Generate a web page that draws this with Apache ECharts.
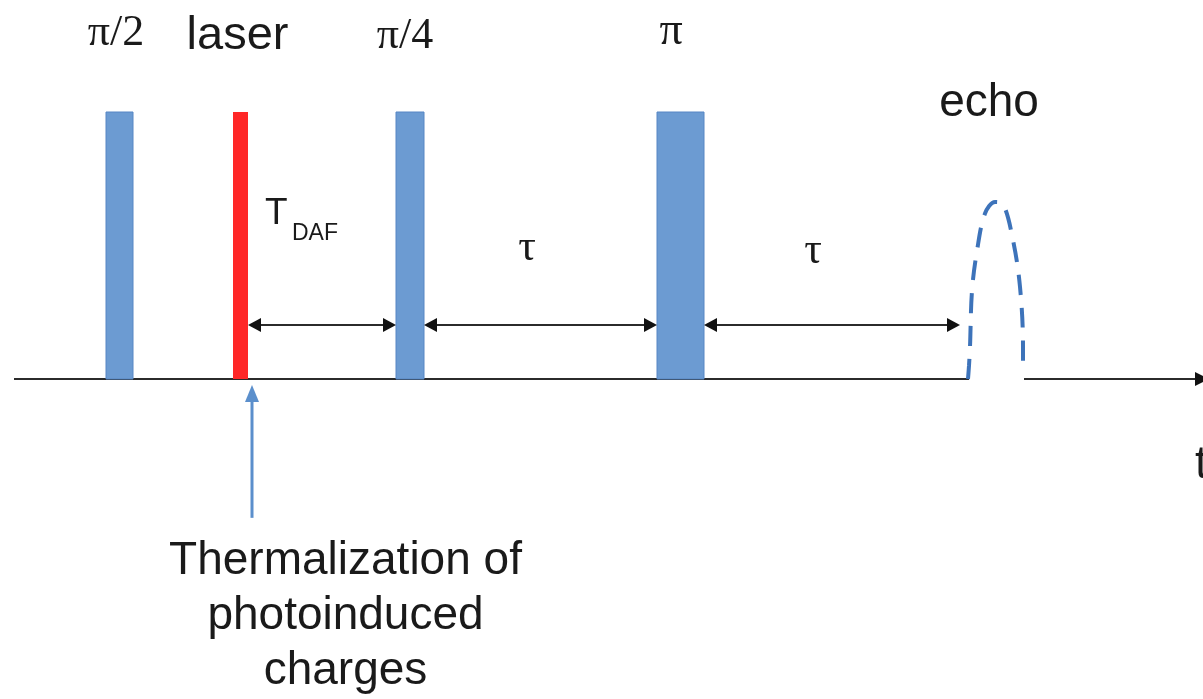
<!DOCTYPE html>
<html>
<head>
<meta charset="utf-8">
<title>Pulse sequence</title>
<script src="https://cdn.jsdelivr.net/npm/echarts@6/dist/echarts.min.js"></script>
<style>
  html, body { margin: 0; padding: 0; background: #fff; }
  #chart { width: 1203px; height: 699px; }
</style>
</head>
<body>
<div id="chart"></div>
<script>
// Pulses: start / end on the time axis, amplitude 1 = full pulse height
const pulseNames  = ['π/2', 'laser', 'π/4', 'π'];
const pulseStart  = [106, 233, 396, 657];
const pulseEnd    = [133, 248, 424, 704];
const pulseHeight = [1, 1, 1, 1];

// Delays shown as double-headed arrows between pulses
const delayNames = ['T_DAF', 'τ', 'τ'];
const delayFrom  = [248, 424, 704];
const delayTo    = [396, 657, 960];
const delayLevel = [0.202, 0.202, 0.202];

// Echo envelope (dashed)
const echoTime = [968, 969, 970, 972, 977, 985, 995, 1003, 1013, 1020, 1023, 1023];
const echoAmp  = [0, 0.05, 0.12, 0.33, 0.48, 0.62, 0.663, 0.655, 0.52, 0.345, 0.12, 0.034];

// Time axis baseline, interrupted under the echo
const baseFrom = [14, 1024];
const baseTo   = [969, 1209];

// Arrow pointing at the laser pulse, with its caption
const noteTime = 252;
const noteFrom = -0.52;
const noteTo   = -0.022;
const noteText = ['Thermalization of', 'photoinduced', 'charges'];

const SANS = '"Liberation Sans", Arial, sans-serif';
const SERIF = '"Liberation Serif", "Times New Roman", serif';

// label placement relative to each pulse top (px)
const pulseLabelShift = [[-3.5, -79], [-3, -76], [-5, -76], [-9.5, -80]];
const pulseLabelFont = [
  { family: SERIF, size: 44 },
  { family: SANS, size: 47 },
  { family: SERIF, size: 44 },
  { family: SERIF, size: 46 }
];

function arrowHead(tip, dir, len, half, color) {
  // dir: unit vector pointing toward the tip
  const bx = tip[0] - dir[0] * len, by = tip[1] - dir[1] * len;
  const nx = -dir[1], ny = dir[0];
  return {
    type: 'polygon',
    shape: { points: [tip, [bx + nx * half, by + ny * half], [bx - nx * half, by - ny * half]] },
    style: { fill: color }
  };
}

const chart = echarts.init(document.getElementById('chart'), null, { renderer: 'canvas' });

chart.setOption({
  animation: false,
  backgroundColor: '#ffffff',
  grid: { left: 0, right: 0, top: 0, bottom: 0 },
  xAxis: { type: 'value', min: 0, max: 1203, show: false },
  yAxis: { type: 'value', min: -1.1985, max: 1.4195, show: false },
  series: [
    {
      // baseline / time axis
      type: 'custom',
      data: baseFrom.map((f, i) => [f, baseTo[i]]),
      z: 1,
      renderItem(params, api) {
        const a = api.coord([api.value(0), 0]);
        const b = api.coord([api.value(1), 0]);
        const last = params.dataIndex === baseFrom.length - 1;
        const children = [{
          type: 'line',
          shape: { x1: a[0], y1: a[1], x2: last ? b[0] - 12 : b[0], y2: b[1] },
          style: { stroke: '#2b2b2b', lineWidth: 2 }
        }];
        if (last) {
          children.push(arrowHead(b, [1, 0], 14, 7, '#111'));
          children.push({
            type: 'text', x: b[0] - 14, y: b[1] + 86,
            style: { text: 't', fontFamily: SANS, fontSize: 46, fill: '#1a1a1a', align: 'left', verticalAlign: 'middle' }
          });
        }
        return { type: 'group', children };
      }
    },
    {
      // pulses with their labels
      type: 'custom',
      data: pulseStart.map((s, i) => [s, pulseEnd[i], pulseHeight[i]]),
      z: 3,
      renderItem(params, api) {
        const i = params.dataIndex;
        const a = api.coord([api.value(0), 0]);
        const b = api.coord([api.value(1), api.value(2)]);
        const laser = pulseNames[i] === 'laser';
        const sh = pulseLabelShift[i];
        const f = pulseLabelFont[i];
        return {
          type: 'group',
          children: [
            {
              type: 'rect',
              shape: { x: a[0], y: b[1], width: b[0] - a[0], height: a[1] - b[1] },
              style: laser
                ? { fill: '#ff2727' }
                : { fill: '#6c9bd2', stroke: '#5686c4', lineWidth: 1 }
            },
            {
              type: 'text',
              x: (a[0] + b[0]) / 2 + sh[0],
              y: b[1] + sh[1],
              style: { text: pulseNames[i], fontFamily: f.family, fontSize: f.size, fill: '#1a1a1a', align: 'center', verticalAlign: 'middle' }
            }
          ]
        };
      }
    },
    {
      // delay arrows
      type: 'custom',
      data: delayFrom.map((f, i) => [f, delayTo[i], delayLevel[i]]),
      z: 4,
      renderItem(params, api) {
        const i = params.dataIndex;
        const a = api.coord([api.value(0), api.value(2)]);
        const b = api.coord([api.value(1), api.value(2)]);
        const children = [
          { type: 'line', shape: { x1: a[0] + 10, y1: a[1], x2: b[0] - 10, y2: b[1] }, style: { stroke: '#2b2b2b', lineWidth: 2 } },
          arrowHead(a, [-1, 0], 13, 7, '#111'),
          arrowHead(b, [1, 0], 13, 7, '#111')
        ];
        if (delayNames[i] === 'T_DAF') {
          children.push({
            type: 'text', x: a[0] + 17, y: a[1] - 111,
            style: { text: 'T', fontFamily: SANS, fontSize: 37, fill: '#1a1a1a', align: 'left', verticalAlign: 'middle' }
          });
          children.push({
            type: 'text', x: a[0] + 44, y: a[1] - 91,
            style: { text: 'DAF', fontFamily: SANS, fontSize: 23, fill: '#1a1a1a', align: 'left', verticalAlign: 'middle' }
          });
        } else {
          const dx = i === 1 ? -13.5 : -19;
          const dy = i === 1 ? -77 : -74;
          children.push({
            type: 'text', x: (a[0] + b[0]) / 2 + dx, y: a[1] + dy,
            style: { text: delayNames[i], fontFamily: SERIF, fontSize: 44, fill: '#1a1a1a', align: 'center', verticalAlign: 'middle' }
          });
        }
        return { type: 'group', children };
      }
    },
    {
      // echo
      type: 'line',
      data: echoTime.map((t, i) => [t, echoAmp[i]]),
      smooth: 0.35,
      showSymbol: false,
      z: 2,
      lineStyle: { color: '#3d73ba', width: 4, type: [20, 13] },
      markPoint: {
        symbol: 'rect', symbolSize: 1,
        itemStyle: { color: 'rgba(0,0,0,0)' },
        data: [{ coord: [989, 0.663] }],
        label: {
          show: true, formatter: 'echo', position: 'inside', offset: [0, -99],
          fontFamily: SANS, fontSize: 46, color: '#1a1a1a'
        }
      }
    },
    {
      // annotation arrow under the laser pulse
      type: 'custom',
      data: [[noteTime, noteFrom, noteTo]],
      z: 4,
      renderItem(params, api) {
        const a = api.coord([api.value(0), api.value(1)]);
        const b = api.coord([api.value(0), api.value(2)]);
        return {
          type: 'group',
          children: [
            { type: 'line', shape: { x1: a[0], y1: a[1], x2: b[0], y2: b[1] + 12 }, style: { stroke: '#5b8fcc', lineWidth: 3 } },
            arrowHead(b, [0, -1], 17, 7, '#5b8fcc'),
            {
              type: 'text', x: a[0] + 93.5, y: a[1] + 98.5,
              style: {
                text: noteText.join('\n'), fontFamily: SANS, fontSize: 46, lineHeight: 55,
                fill: '#1a1a1a', align: 'center', verticalAlign: 'middle'
              }
            }
          ]
        };
      }
    }
  ]
});
</script>
</body>
</html>
